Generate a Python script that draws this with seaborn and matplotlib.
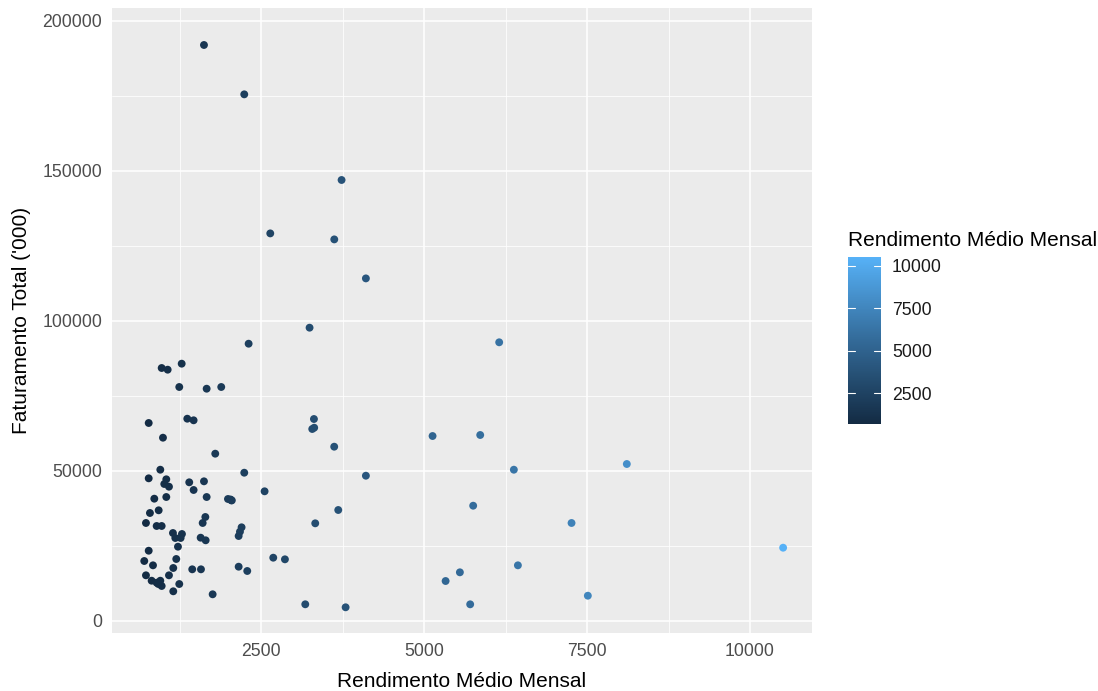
import numpy as np
import pandas as pd
import matplotlib
matplotlib.use("Agg")
import matplotlib.pyplot as plt
import seaborn as sns
from matplotlib.colors import LinearSegmentedColormap, Normalize
from matplotlib.cm import ScalarMappable

rendimento = [1623, 2241, 3734, 2640, 3622, 4107, 3243, 2308,
              3310, 3284, 3314, 3621, 2241, 4107, 2553, 2030, 2050, 3683, 3330,
              2200, 2175, 2155, 2686, 2865, 2155, 2287, 3177, 3796,
              6152, 5130, 5861, 6377, 8110, 5753, 7262, 10508, 6439, 5549, 5330, 5707, 7512,
              974, 1066, 1281, 1244, 1664, 1888, 1367, 1464, 775, 994, 1796, 953,
              775, 1045, 1014, 1086, 1397, 1623, 1464, 861, 1045, 1664, 1991, 2041,
              928, 794, 733, 897, 974, 1644, 1603,
              1147, 1183, 1285, 1265, 1572, 1649, 1224, 775, 707, 841, 1198, 1152,
              1443, 1577, 733, 1086, 820, 897, 953, 974, 923, 1244, 1152, 1756]
faturamento = [192000, 175550, 147000, 129200, 127200, 114200, 97770, 92430,
               67330, 64000, 64430, 58100, 49430, 48430, 43230, 40500, 40200, 37000, 32560,
               31230, 29770, 28330, 21100, 20560, 18100, 16670, 5570, 4570,
               92900, 61660, 62000, 50430, 52330, 38430, 32670, 24430, 18560, 16230, 13330, 5560, 8430,
               84330, 83770, 85770, 78000, 77430, 78000, 67430, 66900, 66000, 61100, 55770, 50430,
               47560, 47230, 45670, 44770, 46230, 46560, 43670, 40770, 41330, 41330, 40670, 40230,
               36900, 36000, 32670, 31670, 31670, 34670, 32670,
               29330, 27670, 29000, 27670, 27770, 26900, 24770, 23430, 20000, 18560, 20670, 17670,
               17230, 17230, 15230, 15230, 13430, 12770, 13430, 11670, 12330, 12330, 9900, 8900]

x_ticks = [2500, 5000, 7500, 10000]
y_ticks = [0, 50000, 100000, 150000, 200000]
cbar_ticks = [2500, 5000, 7500, 10000]

df = pd.DataFrame({"Rendimento Médio Mensal": rendimento,
                   "Faturamento Total ('000)": faturamento})

sns.set_theme(style="darkgrid")
plt.rcParams['font.family'] = ['Liberation Sans', 'DejaVu Sans']

cmap = LinearSegmentedColormap.from_list("gg", ["#132B43", "#336A98", "#56B1F7"])
vmin, vmax = min(rendimento), max(rendimento)
norm = Normalize(vmin=vmin, vmax=vmax)

fig = plt.figure(figsize=(10.98, 6.91), dpi=100)
ax = fig.add_axes([112/1098, 1-633/691, 700/1098, 625/691])
ax.set_facecolor("#EBEBEB")

sns.scatterplot(data=df, x="Rendimento Médio Mensal", y="Faturamento Total ('000)",
                hue="Rendimento Médio Mensal", palette=cmap, hue_norm=norm,
                s=32, linewidth=0, legend=False, ax=ax, zorder=3)

ax.set_xlim(212, 10951)
ax.set_ylim(-4000, 204330)
ax.set_xticks(x_ticks)
ax.set_yticks(y_ticks)
ax.set_xticks([1250, 3750, 6250, 8750], minor=True)
ax.set_yticks([25000, 75000, 125000, 175000], minor=True)
ax.set_xticklabels([str(v) for v in x_ticks])
ax.set_yticklabels([str(v) for v in y_ticks])
ax.grid(which="major", color="white", linewidth=1.1)
ax.grid(which="minor", color="white", linewidth=0.55)
ax.set_axisbelow(True)
for sp in ax.spines.values():
    sp.set_visible(False)
ax.tick_params(which="major", length=4, width=0.8, color="#333333",
               labelsize=12.7, labelcolor="#4D4D4D", pad=3)
ax.tick_params(which="minor", length=0)
ax.set_xlabel("Rendimento Médio Mensal", fontsize=15, color="black", labelpad=9)
ax.set_ylabel("Faturamento Total ('000)", fontsize=15, color="black", labelpad=8)

# colorbar
cax = fig.add_axes([848/1098, 1-424/691, 33/1098, 167/691])
sm = ScalarMappable(norm=norm, cmap=cmap)
cb = fig.colorbar(sm, cax=cax, ticks=cbar_ticks)
cb.outline.set_visible(False)
cb.ax.tick_params(length=0, labelsize=12.7, labelcolor="#1A1A1A", pad=8)
for t in cbar_ticks:
    cax.plot([0, 0.2], [t, t], color="white", linewidth=0.8, transform=cax.get_yaxis_transform())
    cax.plot([0.8, 1.0], [t, t], color="white", linewidth=0.8, transform=cax.get_yaxis_transform())
cax.set_ylim(vmin, vmax)
fig.text(848/1098, 1-241/691, "Rendimento Médio Mensal", fontsize=15,
         ha="left", va="center", color="black")

fig.savefig("out.png", dpi=100)
